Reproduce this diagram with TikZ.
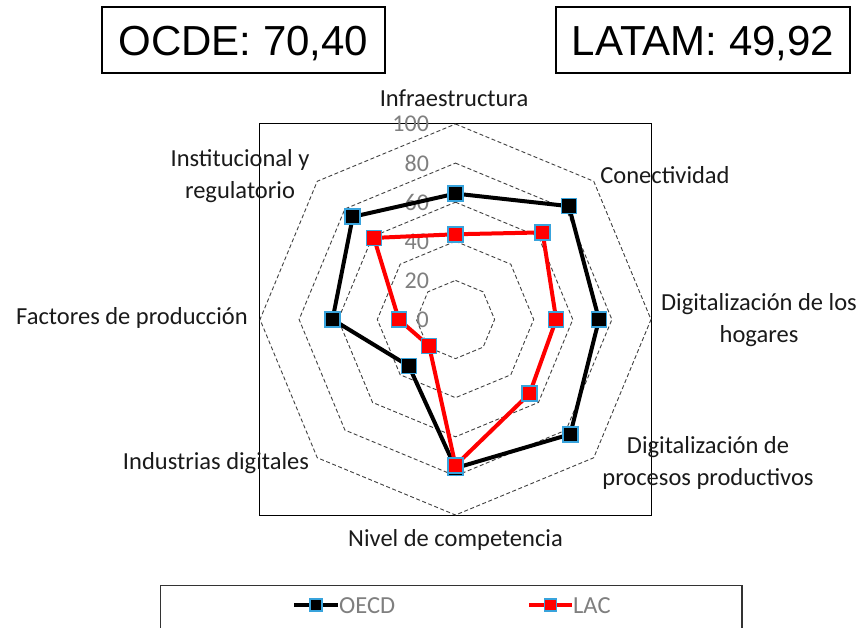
\documentclass[tikz,border=0pt]{standalone}
\usepackage{fontspec}
\newfontfamily\lblfont{Carlito}
\newfontfamily\boxfont{Liberation Sans}
\definecolor{mkborder}{HTML}{38A3DC}
\definecolor{ringgray}{HTML}{404040}
\definecolor{numgray}{HTML}{7F7F7F}
\definecolor{lblcol}{HTML}{1A1A1A}
\tikzset{
  scorebox/.style={draw=black, line width=1.2pt, font={\boxfont\fontsize{42}{46}\selectfont},
    minimum height=66pt, inner sep=0pt, text height=30pt, text depth=0pt},
  axislbl/.style={font={\lblfont\fontsize{24.5}{31.5}\selectfont}, text=lblcol, align=center, inner sep=0pt},
  ringlbl/.style={font={\lblfont\fontsize{24}{28}\selectfont}, text=numgray, anchor=east, inner sep=0pt},
  ringline/.style={draw=ringgray, line width=0.9pt, dash pattern=on 4pt off 2.5pt},
  oline/.style={draw=black, line width=4pt, line join=round},
  lline/.style={draw=red, line width=4pt, line join=round},
  omark/.style={draw=mkborder, fill=black, line width=1.6pt, minimum size=15pt, inner sep=0pt, rectangle},
  lmark/.style={draw=mkborder, fill=red, line width=1.6pt, minimum size=15pt, inner sep=0pt, rectangle},
  legmarko/.style={omark, minimum size=12pt},
  legmarkl/.style={lmark, minimum size=12pt},
  legtext/.style={font={\lblfont\fontsize{24.5}{28}\selectfont}, text=numgray, anchor=west, inner sep=0pt},
  frameline/.style={draw=black, line width=1.2pt}
}
\begin{document}
\begin{tikzpicture}[x=1pt, y=-1pt]
\useasboundingbox (0,0) rectangle (864,627);
\fill[white] (0,0) rectangle (864,627);

% score boxes
\node[scorebox, minimum width=283pt] (ocde) at (243.5,40) {OCDE: 70,40};
\node[scorebox, minimum width=294pt] (latam) at (703,40) {LATAM: 49,92};

% plot frame
\node[frameline, minimum width=391.5pt, minimum height=391.5pt, inner sep=0pt] (frame) at (455.5,319.5) {};

% axis labels
\node[axislbl] (lInfra) at (454,98) {Infraestructura};
\node[axislbl] (lCon) at (665,175) {Conectividad};
\node[axislbl] (lHog) at (759,320) {Digitalización de los\\hogares};
\node[axislbl] (lProc) at (708,463) {Digitalización de\\procesos productivos};
\node[axislbl] (lNiv) at (455.5,540) {Nivel de competencia};
\node[axislbl] (lInd) at (216,463) {Industrias digitales};
\node[axislbl] (lFac) at (132,318) {Factores de producción};
\node[axislbl] (lInst) at (240,176) {Institucional y\\regulatorio};

% radar
\begin{scope}[shift={(455.5,319.5)}, x=1.955pt, y=1.955pt]
  \foreach \v in {20,40,60,80,100}{
    \draw[ringline] (90:\v) -- (45:\v) -- (0:\v) -- (-45:\v) -- (-90:\v) -- (-135:\v) -- (180:\v) -- (135:\v) -- cycle;
  }
  \foreach \v/\k in {0/r0,20/r1,40/r2,60/r3,80/r4,100/r5}{
    \node[ringlbl] (\k) at (-13.5,\v) {\v};
  }
  % OECD
  \coordinate (o1) at (90:64.4);
  \coordinate (o2) at (45:82);
  \coordinate (o3) at (0:73.4);
  \coordinate (o4) at (-45:83);
  \coordinate (o5) at (-90:76);
  \coordinate (o6) at (-135:33.7);
  \coordinate (o7) at (180:62.9);
  \coordinate (o8) at (135:74.3);
  % LAC
  \coordinate (l1) at (90:43.6);
  \coordinate (l2) at (45:63);
  \coordinate (l3) at (0:51.5);
  \coordinate (l4) at (-45:53.6);
  \coordinate (l5) at (-90:74.6);
  \coordinate (l6) at (-135:19.1);
  \coordinate (l7) at (180:29);
  \coordinate (l8) at (135:59);
  \draw[oline] (o1) -- (o2) -- (o3) -- (o4) -- (o5) -- (o6) -- (o7) -- (o8) -- cycle;
  \foreach \i in {1,...,8}{ \node[omark] (om\i) at (o\i) {}; }
  \draw[lline] (l1) -- (l2) -- (l3) -- (l4) -- (l5) -- (l6) -- (l7) -- (l8) -- cycle;
  \foreach \i in {1,...,8}{ \node[lmark] (lm\i) at (l\i) {}; }
\end{scope}

% legend
\draw[line width=1.2pt, draw=black!80] (160.5,630) |- (742,585.5) -- (742,630);
\coordinate (oa) at (294,605);
\coordinate (ob) at (338,605);
\coordinate (la) at (529,605);
\coordinate (lb) at (572,605);
\draw[draw=black, line width=4pt] (oa) -- (ob);
\node[legmarko] (legom) at (316,605) {};
\node[legtext] (legot) at (339,606) {OECD};
\draw[draw=red, line width=4pt] (la) -- (lb);
\node[legmarkl] (leglm) at (550.5,605) {};
\node[legtext] (leglt) at (573,606) {LAC};
\end{tikzpicture}
\end{document}
